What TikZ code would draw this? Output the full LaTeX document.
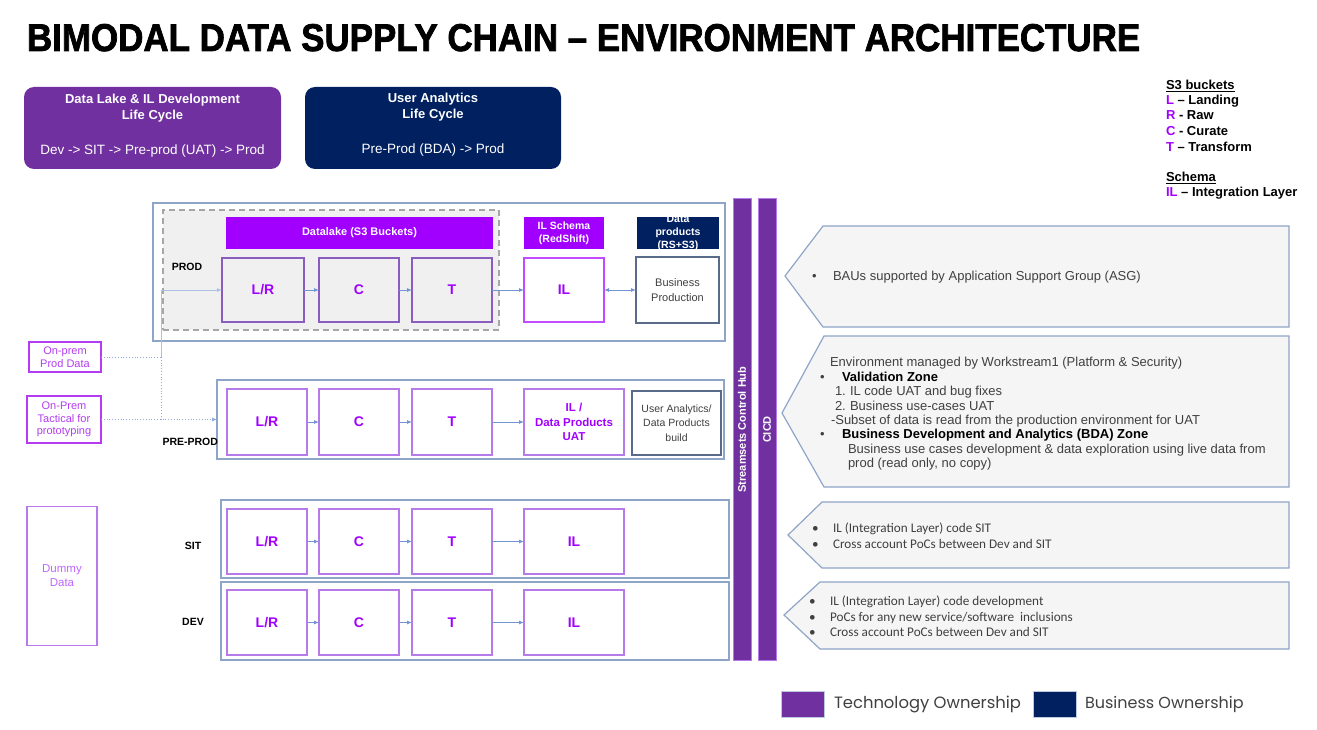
\documentclass[tikz,border=0pt]{standalone}
\usepackage{fontspec}
\usepackage{graphicx}
\setmainfont{Liberation Sans}
\newfontfamily\carlito{Carlito}
\newfontfamily\legfont{Poppins}
\newfontfamily\titlefont[UprightFont={* Bold}, FakeBold=2]{Liberation Sans}
\usetikzlibrary{arrows.meta}
\definecolor{techpurple}{HTML}{7030A0}
\definecolor{navy}{HTML}{002060}
\definecolor{vivid}{HTML}{A100FF}
\definecolor{lav}{HTML}{B67BE8}
\definecolor{prodlav}{HTML}{8A5CC0}
\definecolor{ilbright}{HTML}{C34BFF}
\definecolor{steel}{HTML}{8FA5C8}
\definecolor{arrowblue}{HTML}{4472C4}
\definecolor{calfill}{HTML}{F5F5F5}
\definecolor{dgray}{HTML}{404040}
\definecolor{opcol}{HTML}{B33CF0}
\definecolor{dummycol}{HTML}{BF66FF}
\definecolor{bpborder}{HTML}{5A6A8A}
\newcommand\fs[2]{\fontsize{#1}{#2}\selectfont}
\tikzset{
  every node/.style={inner sep=0pt, outer sep=0pt},
  container/.style={draw=steel, line width=1.2pt, fill=white},
  stagebox/.style={draw=lav, line width=1.2pt, fill=white, text=vivid, font=\fs{14}{16}\bfseries, align=center},
  prodstage/.style={stagebox, draw=prodlav, fill=black!6},
  bar/.style={fill=vivid, text=white, font=\fs{11}{13}\bfseries, align=center},
  envlabel/.style={font=\fs{10.5}{12}\bfseries, text=black},
  flow/.style={draw=arrowblue!75, line width=0.8pt, -{Latex[length=5pt,width=4pt]}},
  dotflow/.style={draw=arrowblue!60, line width=0.8pt, dotted},
  srcbox/.style={draw=opcol, line width=1.2pt, text=opcol, font=\fs{11}{13}, align=center},
  callout/.style={draw=steel, line width=1.2pt, fill=calfill},
  vbar/.style={fill=techpurple, draw=lav, line width=1pt, text=white, font=\fs{11}{13}\bfseries},
  ctext/.style={font=\fs{13}{15}, text=dgray, anchor=base west},
  cbtext/.style={font=\fs{13}{15}\bfseries, text=black, anchor=base west},
  ktext/.style={font=\carlito\fs{13.2}{15}, text=dgray, anchor=base west},
  legtext/.style={font=\fs{13}{15}\bfseries, text=black, anchor=base west},
}
\begin{document}
\begin{tikzpicture}[x=1pt, y=-1pt]
\useasboundingbox (0,0) rectangle (1317,730);

% Title
\node[anchor=base west] (title) at (27,51) {\resizebox{1113pt}{27pt}{\titlefont BIMODAL DATA SUPPLY CHAIN – ENVIRONMENT ARCHITECTURE}};

% Life cycle boxes
\node[fill=techpurple, rounded corners=10pt, minimum width=257, minimum height=82] (lc1) at (152.5,128) {};
\node[text=white, font=\fs{13}{16}\bfseries, align=center] (lc1t) at (152.5,108) {Data Lake \& IL Development\\Life Cycle};
\node[text=white, font=\fs{13.5}{15}] (lc1b) at (152.5,151) {Dev -> SIT -> Pre-prod (UAT) -> Prod};
\node[fill=navy, rounded corners=10pt, minimum width=256, minimum height=82] (lc2) at (433,128) {};
\node[text=white, font=\fs{13}{16}\bfseries, align=center] (lc2t) at (433,107) {User Analytics\\Life Cycle};
\node[text=white, font=\fs{13.5}{15}] (lc2b) at (433,150) {Pre-Prod (BDA) -> Prod};

% Legend top-right
\node[legtext] (lg1) at (1166,90) {\underline{S3 buckets}};
\node[legtext] (lg2) at (1166,105) {\textcolor{vivid}{L} – Landing};
\node[legtext] (lg3) at (1166,120) {\textcolor{vivid}{R} - Raw};
\node[legtext] (lg4) at (1166,136) {\textcolor{vivid}{C} - Curate};
\node[legtext] (lg5) at (1166,152) {\textcolor{vivid}{T} – Transform};
\node[legtext] (lg6) at (1166,182) {\underline{Schema}};
\node[legtext] (lg7) at (1166,197) {\textcolor{vivid}{IL} – Integration Layer};

% PROD
\node[container, minimum width=572, minimum height=138] (prod) at (439,272) {};
\node[draw=black!35, dashed, dash pattern=on 6pt off 4pt, line width=1.5pt, fill=black!6, minimum width=336, minimum height=120] (dl) at (331,270) {};
\node[bar, minimum width=267, minimum height=32] (dlbar) at (359.5,233) {Datalake (S3 Buckets)};
\node[envlabel] (prodl) at (187,267) {PROD};
\node[prodstage, minimum width=82, minimum height=64] (plr) at (263,290) {L/R};
\node[prodstage, minimum width=80, minimum height=64] (pc) at (359,290) {C};
\node[prodstage, minimum width=80, minimum height=64] (pt) at (452,290) {T};
\node[bar, font=\fs{10.5}{13}\bfseries, minimum width=80, minimum height=32] (ilbar) at (564,233) {IL Schema\\(RedShift)};
\node[stagebox, draw=ilbright, minimum width=80, minimum height=64] (pil) at (564,290) {IL};
\node[fill=navy, minimum width=82, minimum height=32] (dpbar) at (678,233) {};
\begin{scope}
\clip (dpbar.south west) rectangle (dpbar.north east);
\node[text=white, font=\fs{10.5}{13}\bfseries, align=center] (dpbart) at (678,233) {Data\\products\\(RS+S3)};
\end{scope}
\node[draw=bpborder, line width=1.2pt, fill=white, text=dgray, font=\fs{11}{15}, align=center, minimum width=83, minimum height=66] (pbp) at (677.5,290) {Business\\Production};

% PRE-PROD
\node[container, minimum width=507, minimum height=79] (pp) at (470.5,419.5) {};
\node[envlabel, anchor=base east] (ppl) at (218,445) {PRE-PROD};
\node[stagebox, minimum width=80, minimum height=66] (qlr) at (267,422) {L/R};
\node[stagebox, minimum width=80, minimum height=66] (qc) at (359,422) {C};
\node[stagebox, minimum width=80, minimum height=66] (qt) at (452,422) {T};
\node[stagebox, font=\fs{11.5}{14.5}\bfseries, minimum width=100, minimum height=66] (qil) at (574,422) {IL /\\Data Products\\UAT};
\node[draw=bpborder, line width=1.2pt, fill=white, text=dgray, font=\fs{10.5}{14.5}, align=center, minimum width=89, minimum height=64] (qua) at (676.5,423) {User Analytics/\\Data Products\\build};

% SIT
\node[container, minimum width=508, minimum height=78] (sit) at (475,539) {};
\node[envlabel] (sitl) at (193,546) {SIT};
\node[stagebox, minimum width=80, minimum height=65] (slr) at (267,541.5) {L/R};
\node[stagebox, minimum width=80, minimum height=65] (sc) at (359,541.5) {C};
\node[stagebox, minimum width=80, minimum height=65] (st) at (452,541.5) {T};
\node[stagebox, minimum width=100, minimum height=65] (sil) at (574,541.5) {IL};

% DEV
\node[container, minimum width=508, minimum height=78] (dev) at (475,621) {};
\node[envlabel] (devl) at (193,622) {DEV};
\node[stagebox, minimum width=80, minimum height=65] (dlr) at (267,622.5) {L/R};
\node[stagebox, minimum width=80, minimum height=65] (dc) at (359,622.5) {C};
\node[stagebox, minimum width=80, minimum height=65] (dt) at (452,622.5) {T};
\node[stagebox, minimum width=100, minimum height=65] (dil) at (574,622.5) {IL};

% Sources
\node[srcbox, minimum width=72, minimum height=30] (opd) at (65,357) {On-prem\\Prod Data};
\node[srcbox, font=\fs{11}{12.5}, minimum width=74, minimum height=47] (opt) at (64,419.5) {On-Prem\\Tactical for\\prototyping};
\node[srcbox, draw=lav, text=dummycol, font=\fs{11.5}{14}, minimum width=70, minimum height=139] (dum) at (62,576) {Dummy\\Data};

% Flow arrows
\draw[flow] (plr) -- (pc);
\draw[flow] (pc) -- (pt);
\draw[flow] (pt) -- (pil);
\draw[flow, {Latex[length=5pt,width=4pt]}-{Latex[length=5pt,width=4pt]}] (pil) -- (pbp);
\draw[flow] (qlr) -- (qc);
\draw[flow] (qc) -- (qt);
\draw[flow] (qt) -- (qil);
\draw[flow] (slr) -- (sc);
\draw[flow] (sc) -- (st);
\draw[flow] (st) -- (sil);
\draw[flow] (dlr) -- (dc);
\draw[flow] (dc) -- (dt);
\draw[flow] (dt) -- (dil);

\coordinate (j1) at (161,357);
\coordinate (j0) at (161,290);
\coordinate (j2) at (161,419.5);
\draw[dotflow] (opd.east) -- (j1);
\draw[flow, draw=arrowblue!45] (j1) -- (j0) -- (plr.west);
\draw[dotflow] (j1) -- (j2);
\draw[dotflow, -{Latex[length=5pt,width=4pt]}] (opt.east) -- (pp.west);

% Vertical bars
\node[vbar, rotate=90, minimum width=461, minimum height=18] (sch) at (742,429.5) {Streamsets Control Hub};
\node[vbar, rotate=90, minimum width=461, minimum height=18] (cicd) at (767,429.5) {CICD};

% Callout 1
\path[callout] (785,276) -- (823,226) -- (1289,226) -- (1289,327) -- (823,327) -- cycle;
\node[ctext] (c1b) at (812,280) {•};
\node[ctext] (c1t) at (833,280) {BAUs supported by Application Support Group (ASG)};

% Callout 2
\path[callout] (782,413) -- (824,336) -- (1289,336) -- (1289,487) -- (824,487) -- cycle;
\node[ctext] (c2a) at (830,366) {Environment managed by Workstream1 (Platform \& Security)};
\node[ctext] (c2bb) at (820,381) {•};
\node[cbtext] (c2b) at (842,381) {Validation Zone};
\node[ctext] (c2cn) at (835,395) {1.};
\node[ctext] (c2c) at (850,395) {IL code UAT and bug fixes};
\node[ctext] (c2dn) at (835,410) {2.};
\node[ctext] (c2d) at (850,410) {Business use-cases UAT};
\node[ctext] (c2e) at (831,424) {-Subset of data is read from the production environment for UAT};
\node[ctext] (c2fb) at (820,438) {•};
\node[cbtext] (c2f) at (842,438) {Business Development and Analytics (BDA) Zone};
\node[ctext] (c2g) at (848,453) {Business use cases development \& data exploration using live data from};
\node[ctext] (c2h) at (848,467) {prod (read only, no copy)};

% Callout 3
\path[callout] (788,535) -- (822,502) -- (1289,502) -- (1289,568) -- (822,568) -- cycle;
\node[ktext] (c3ab) at (812,532) {•};
\node[ktext] (c3a) at (833,532) {IL (Integration Layer) code SIT};
\node[ktext] (c3bb) at (812,548) {•};
\node[ktext] (c3b) at (833,548) {Cross account PoCs between Dev and SIT};

% Callout 4
\path[callout] (784,615) -- (820,582) -- (1289,582) -- (1289,649) -- (820,649) -- cycle;
\node[ktext] (c4ab) at (809,605) {•};
\node[ktext] (c4a) at (830,605) {IL (Integration Layer) code development};
\node[ktext] (c4bb) at (809,621) {•};
\node[ktext] (c4b) at (830,621) {PoCs for any new service/software\ \ inclusions};
\node[ktext] (c4cb) at (809,636) {•};
\node[ktext] (c4c) at (830,636) {Cross account PoCs between Dev and SIT};

% Ownership legend
\node[fill=techpurple, draw=steel!60, line width=0.8pt, minimum width=43, minimum height=26] (own1) at (802.5,704) {};
\node[anchor=west, font=\legfont\fs{16.4}{19}, text=dgray] (own1t) at (834,704) {Technology Ownership};
\node[fill=navy, draw=steel!60, line width=0.8pt, minimum width=43, minimum height=26] (own2) at (1054.5,704) {};
\node[anchor=west, font=\legfont\fs{16}{19}, text=dgray] (own2t) at (1085,704) {Business Ownership};
\end{tikzpicture}
\end{document}
